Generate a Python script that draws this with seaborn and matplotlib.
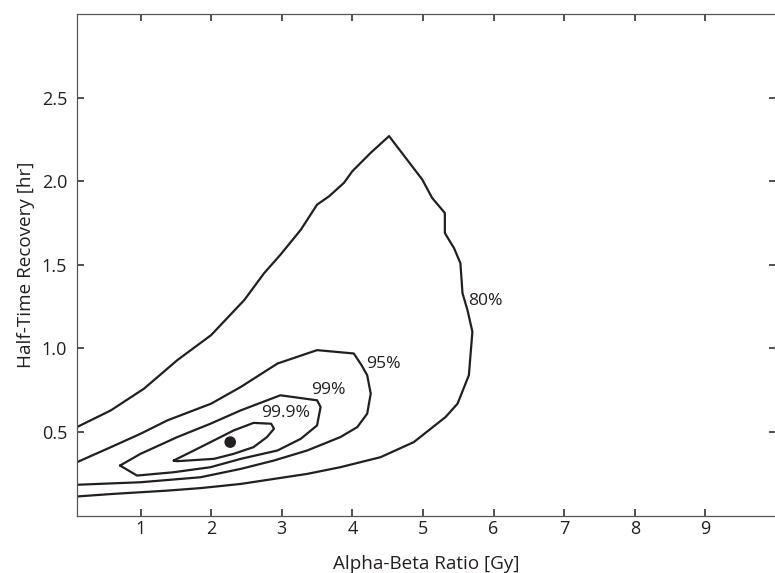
import numpy as np
import pandas as pd
import matplotlib.pyplot as plt
import seaborn as sns

# 置信区域等高线
x80 = [0.10, 0.58, 1.05, 1.52, 2.00, 2.47, 2.75, 2.98, 3.27, 3.50, 3.67, 3.88, 4.00,
       4.26, 4.52, 4.61, 4.99, 5.13, 5.31, 5.31, 5.44, 5.53, 5.56, 5.63, 5.70, 5.65,
       5.49, 5.32, 4.87, 4.40, 3.83, 3.36, 2.89, 2.42, 1.85, 1.38, 0.60, 0.10]
y80 = [0.53, 0.63, 0.76, 0.93, 1.08, 1.29, 1.45, 1.56, 1.71, 1.86, 1.91, 1.99, 2.06,
       2.17, 2.27, 2.22, 2.01, 1.90, 1.81, 1.69, 1.60, 1.51, 1.33, 1.23, 1.10, 0.84,
       0.67, 0.59, 0.44, 0.35, 0.29, 0.25, 0.22, 0.19, 0.165, 0.15, 0.13, 0.115]

x95 = [0.10, 0.58, 1.00, 1.38, 2.00, 2.42, 2.94, 3.50, 4.02, 4.13, 4.21, 4.26,
       4.21, 4.07, 3.83, 3.36, 2.89, 2.42, 1.85, 1.00, 0.10]
y95 = [0.32, 0.41, 0.49, 0.57, 0.67, 0.77, 0.91, 0.99, 0.97, 0.90, 0.84, 0.73,
       0.61, 0.53, 0.47, 0.39, 0.33, 0.28, 0.23, 0.20, 0.185]

x99 = [0.71, 1.00, 1.52, 1.99, 2.42, 2.98, 3.50, 3.55, 3.50, 3.27, 2.94, 2.42, 1.99,
       1.47, 0.95, 0.71]
y99 = [0.30, 0.37, 0.47, 0.55, 0.63, 0.72, 0.69, 0.65, 0.54, 0.46, 0.39, 0.34, 0.29,
       0.26, 0.24, 0.30]

x999 = [1.47, 1.85, 2.32, 2.60, 2.85, 2.89, 2.79, 2.60, 2.32, 2.04, 1.52, 1.47]
y999 = [0.33, 0.41, 0.51, 0.555, 0.55, 0.52, 0.47, 0.41, 0.37, 0.34, 0.326, 0.33]

# 最佳拟合点
best_x = [2.27]
best_y = [0.44]

levels = ["80%", "95%", "99%", "99.9%"]
level_x = [5.645, 4.20, 3.41, 2.71]
level_y = [1.26, 0.886, 0.73, 0.59]

x_ticks = [1, 2, 3, 4, 5, 6, 7, 8, 9]
y_ticks = [0.5, 1.0, 1.5, 2.0, 2.5]
y_tick_labels = ["0.5", "1.0", "1.5", "2.0", "2.5"]

sns.set_style("ticks")
plt.rcParams["font.family"] = ["Open Sans", "DejaVu Sans"]

ink = "#231f20"

fig = plt.figure(figsize=(7.75, 5.73), dpi=100)
ax = fig.add_axes([77 / 775, (573 - 515.7) / 573, (776 - 77) / 775, (515.7 - 14) / 573])

for xs, ys in [(x80, y80), (x95, y95), (x99, y99), (x999, y999)]:
    sns.lineplot(x=xs, y=ys, sort=False, estimator=None, color=ink,
                 linewidth=1.6, ax=ax)

sns.scatterplot(x=best_x, y=best_y, color=ink, s=70, edgecolor="none", ax=ax, zorder=5)

for lab, lx, ly in zip(levels, level_x, level_y):
    ax.text(lx, ly, lab, ha="left", va="baseline", fontsize=12.6, color=ink)

ax.set_xlim(0.1, 10)
ax.set_ylim(0, 3)
ax.set_xticks(x_ticks)
ax.set_yticks(y_ticks)
ax.set_yticklabels(y_tick_labels)

ax.tick_params(direction="in", top=True, right=True, length=5, width=1.1,
               color=ink, labelsize=13, labelcolor=ink)
ax.tick_params(axis="x", pad=3)
ax.tick_params(axis="y", pad=7)

for side in ["left", "bottom", "top", "right"]:
    ax.spines[side].set_color("#555555")
    ax.spines[side].set_linewidth(0.9)

ax.set_xlabel("Alpha-Beta Ratio [Gy]", fontsize=13.6, color=ink, labelpad=12)
ax.set_ylabel("Half-Time Recovery [hr]", fontsize=13.6, color=ink, labelpad=5)

fig.savefig("out.png", dpi=100)
